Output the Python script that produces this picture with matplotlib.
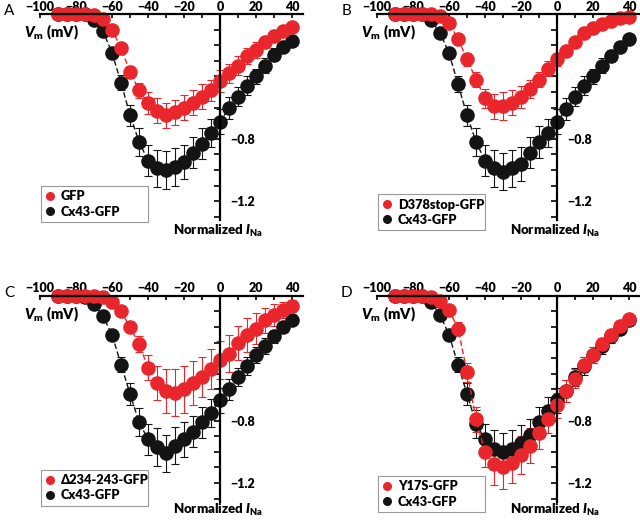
import matplotlib
matplotlib.use("Agg")
import matplotlib.pyplot as plt
from matplotlib.lines import Line2D
from matplotlib.ticker import MultipleLocator, FixedLocator, FixedFormatter

plt.rcParams['font.family'] = ['Lato', 'DejaVu Sans']
plt.rcParams['font.weight'] = 'heavy'
plt.rcParams['mathtext.fontset'] = 'custom'
plt.rcParams['mathtext.bf'] = 'Lato:heavy'
plt.rcParams['mathtext.rm'] = 'Lato:heavy'
plt.rcParams['mathtext.it'] = 'Lato:heavy:italic'

RED = '#e8262b'
BLACK = '#141414'

# membrane potential steps (mV)
voltage = list(range(-90, 45, 5))

# panel A
a_gfp = [0, 0, 0, 0, -0.006, -0.03, -0.10, -0.22, -0.37, -0.49, -0.57, -0.62, -0.65, -0.63,
         -0.60, -0.57, -0.53, -0.49, -0.43, -0.38, -0.33, -0.27, -0.23, -0.18, -0.14, -0.11, -0.085]
a_gfp_err = [0, 0, 0, 0, 0.005, 0.01, 0.02, 0.03, 0.04, 0.05, 0.07, 0.08, 0.08, 0.08,
             0.08, 0.08, 0.08, 0.07, 0.07, 0.06, 0.06, 0.05, 0.05, 0.04, 0.04, 0.03, 0.03]
a_cx43 = [0, 0, 0, 0, -0.04, -0.11, -0.25, -0.44, -0.65, -0.82, -0.94, -0.99, -1.00, -0.98,
          -0.95, -0.89, -0.83, -0.76, -0.69, -0.60, -0.53, -0.46, -0.40, -0.33, -0.26, -0.21, -0.17]
a_cx43_err = [0, 0, 0, 0, 0.01, 0.02, 0.03, 0.05, 0.07, 0.09, 0.10, 0.12, 0.12, 0.12,
              0.11, 0.10, 0.10, 0.09, 0.08, 0.07, 0.06, 0.06, 0.05, 0.05, 0.04, 0.03, 0.03]

# panel B
b_d378 = [0, 0, 0, 0, 0, -0.01, -0.055, -0.16, -0.29, -0.42, -0.54, -0.59, -0.59, -0.57,
          -0.53, -0.48, -0.42, -0.35, -0.29, -0.24, -0.18, -0.12, -0.09, -0.064, -0.043, -0.028, -0.017]
b_d378_err = [0, 0, 0, 0, 0, 0.005, 0.01, 0.03, 0.04, 0.05, 0.06, 0.08, 0.09, 0.08,
              0.07, 0.06, 0.05, 0.05, 0.04, 0.03, 0.03, 0.02, 0.02, 0.02, 0.01, 0.01, 0.01]
b_cx43 = [0, 0, 0, 0, -0.04, -0.12, -0.25, -0.45, -0.65, -0.82, -0.94, -0.99, -1.01, -0.99,
          -0.96, -0.89, -0.82, -0.76, -0.69, -0.61, -0.53, -0.46, -0.40, -0.33, -0.27, -0.21, -0.16]
b_cx43_err = a_cx43_err

# panel C
c_del = [0, 0, 0, 0, 0, -0.01, -0.04, -0.10, -0.20, -0.31, -0.46, -0.56, -0.61, -0.62,
         -0.60, -0.56, -0.52, -0.47, -0.41, -0.37, -0.30, -0.25, -0.21, -0.155, -0.12, -0.09, -0.064]
c_del_err = [0, 0, 0, 0, 0, 0.005, 0.01, 0.02, 0.03, 0.05, 0.08, 0.11, 0.14, 0.15,
             0.15, 0.14, 0.13, 0.13, 0.12, 0.12, 0.11, 0.11, 0.10, 0.08, 0.07, 0.05, 0.04]
c_cx43 = [0, 0, 0, -0.01, -0.05, -0.13, -0.25, -0.44, -0.63, -0.81, -0.92, -0.97, -1.01, -0.96,
          -0.92, -0.87, -0.81, -0.75, -0.67, -0.60, -0.52, -0.45, -0.38, -0.32, -0.26, -0.20, -0.155]
c_cx43_err = a_cx43_err

# panel D
d_y17s = [0, 0, 0, 0, -0.005, -0.03, -0.09, -0.21, -0.49, -0.79, -1.00, -1.08, -1.10, -1.07,
          -1.02, -0.96, -0.88, -0.79, -0.70, -0.61, -0.53, -0.44, -0.38, -0.31, -0.25, -0.19, -0.145]
d_y17s_err = [0, 0, 0, 0, 0.005, 0.01, 0.02, 0.04, 0.06, 0.08, 0.10, 0.13, 0.14, 0.13,
              0.12, 0.11, 0.10, 0.09, 0.08, 0.07, 0.06, 0.05, 0.05, 0.04, 0.04, 0.03, 0.03]
d_cx43 = [0, 0, 0, 0, -0.04, -0.12, -0.25, -0.44, -0.63, -0.82, -0.92, -0.98, -1.00, -0.98,
          -0.94, -0.89, -0.81, -0.74, -0.67, -0.61, -0.52, -0.45, -0.38, -0.32, -0.26, -0.21, -0.155]
d_cx43_err = a_cx43_err

x_ticks = [-100, -80, -60, -40, -20, 0, 20, 40]
x_labels = ['\u2212100', '\u221280', '\u221260', '\u221240', '\u221220', '0', '20', '40']
y_ticks = [-0.4, -0.8, -1.2]
y_labels = ['', '\u22120.8', '\u22121.2']


def draw_panel(ax, letter, red_name, red_y, red_err, black_y, black_err, leg_y, lab_y):
    for y, err, col in [(black_y, black_err, BLACK), (red_y, red_err, RED)]:
        ax.errorbar(voltage, y, yerr=err, color=col, ecolor=col, ls=(0, (4, 2)), lw=1.0,
                    marker='o', ms=10.5, mec='none', capsize=2.8, capthick=0.8,
                    elinewidth=0.8, clip_on=False)

    ax.set_xlim(-100, 46)
    ax.set_ylim(-1.32, 0)
    ax.spines['bottom'].set_visible(False)
    ax.spines['left'].set_visible(False)
    ax.spines['right'].set_position(('data', 0))
    for s in ['top', 'right']:
        ax.spines[s].set_linewidth(1.6)

    ax.xaxis.set_ticks_position('top')
    ax.xaxis.set_major_locator(FixedLocator(x_ticks))
    ax.xaxis.set_major_formatter(FixedFormatter(x_labels))
    ax.xaxis.set_minor_locator(MultipleLocator(10))
    ax.tick_params(axis='x', which='both', direction='in', length=3, width=1.2,
                   labelsize=9, pad=1)

    ax.yaxis.set_ticks_position('right')
    ax.yaxis.set_major_locator(FixedLocator(y_ticks))
    ax.yaxis.set_major_formatter(FixedFormatter(y_labels))
    ax.yaxis.set_minor_locator(MultipleLocator(0.1))
    ax.tick_params(axis='y', which='both', direction='in', length=4, width=1.2,
                   labelsize=9, pad=7)

    ax.text(-117, 0.02, letter, fontsize=11, fontweight='normal', ha='center', va='center')
    ax.text(-109, -0.12, r'$\mathit{V}_{\mathregular{m}}$ (mV)', fontsize=10.5,
            ha='left', va='center')
    ax.text(-26, lab_y, r'Normalized $\mathit{I}_{\mathregular{Na}}$', fontsize=9.5,
            ha='left', va='center')

    handles = [Line2D([], [], ls='none', marker='o', ms=6.5, mec='none', color=RED),
               Line2D([], [], ls='none', marker='o', ms=6.5, mec='none', color=BLACK)]
    leg = ax.legend(handles, [red_name, 'Cx43-GFP'], loc='lower left', mode='expand',
                    bbox_to_anchor=(0.005, leg_y, 0.405, 0.18), fontsize=9.2,
                    frameon=True, fancybox=False, handlelength=0.6, handletextpad=0.6,
                    borderpad=0.35, labelspacing=0.25, borderaxespad=0)
    leg.get_frame().set_edgecolor('#808080')
    leg.get_frame().set_linewidth(0.8)


fig = plt.figure(figsize=(6.4, 5.2), dpi=100)
w, h = 0.411, 0.396
ax_a = fig.add_axes([0.0625, 0.577, w, h])
ax_b = fig.add_axes([0.589, 0.577, w, h])
ax_c = fig.add_axes([0.0625, 0.035, w, h])
ax_d = fig.add_axes([0.589, 0.035, w, h])

draw_panel(ax_a, 'A', 'GFP', a_gfp, a_gfp_err, a_cx43, a_cx43_err, -0.01, -1.39)
draw_panel(ax_b, 'B', 'D378stop-GFP', b_d378, b_d378_err, b_cx43, b_cx43_err, -0.05, -1.39)
draw_panel(ax_c, 'C', '\u0394234-243-GFP', c_del, c_del_err, c_cx43, c_cx43_err, -0.02, -1.37)
draw_panel(ax_d, 'D', 'Y17S-GFP', d_y17s, d_y17s_err, d_cx43, d_cx43_err, -0.05, -1.37)

fig.savefig('out.png', dpi=100)
